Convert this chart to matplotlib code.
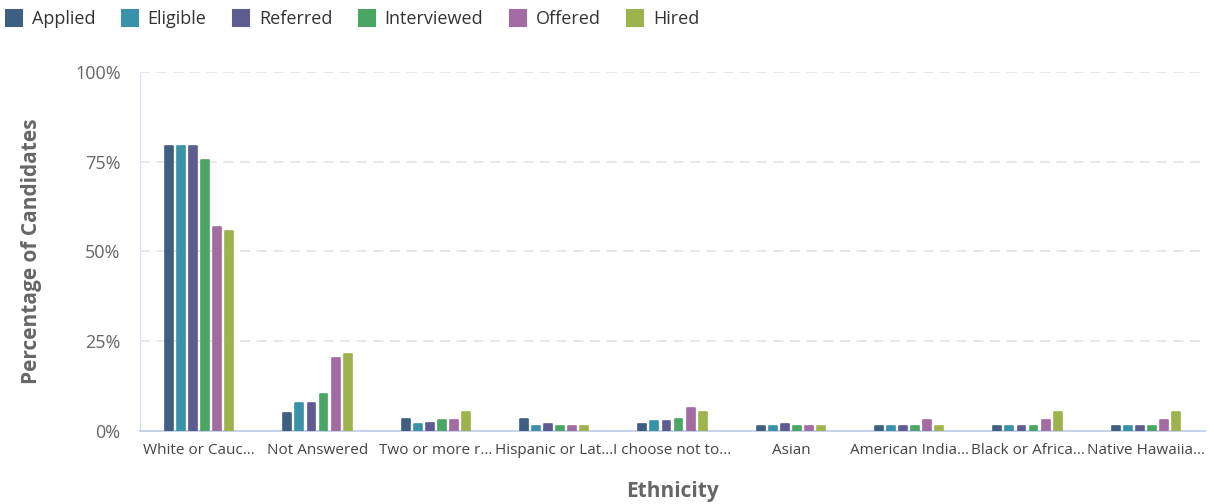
import matplotlib
matplotlib.use("Agg")
import matplotlib.pyplot as plt
import numpy as np
from matplotlib.lines import Line2D

categories = ["White or Cauc...", "Not Answered", "Two or more r...", "Hispanic or Lat...",
              "I choose not to...", "Asian", "American India...", "Black or Africa...", "Native Hawaiia..."]
series = ["Applied", "Eligible", "Referred", "Interviewed", "Offered", "Hired"]
applied     = [79.4, 5.0, 3.3, 3.3, 1.9, 1.4, 1.4, 1.4, 1.4]
eligible    = [79.4, 7.8, 1.9, 1.4, 2.7, 1.4, 1.4, 1.4, 1.4]
referred    = [79.4, 7.8, 2.2, 1.9, 2.7, 1.9, 1.4, 1.4, 1.4]
interviewed = [75.5, 10.3, 3.1, 1.4, 3.3, 1.4, 1.4, 1.4, 1.4]
offered     = [56.8, 20.3, 3.1, 1.4, 6.5, 1.4, 3.1, 3.1, 3.1]
hired       = [55.7, 21.4, 5.3, 1.4, 5.3, 1.4, 1.4, 5.3, 5.3]
values = [applied, eligible, referred, interviewed, offered, hired]
colors = ["#3e5f82", "#3a92a8", "#5e5b91", "#4aa664", "#a26ba1", "#9db44e"]
yticks = [0, 25, 50, 75, 100]
ytick_labels = ["0%", "25%", "50%", "75%", "100%"]

plt.rcParams['font.family'] = ['Open Sans', 'DejaVu Sans']

fig = plt.figure(figsize=(12.14, 5.04), dpi=100)
ax = fig.add_axes([140/1214, 1-431/504, (1205-140)/1214, (431-72)/504])

x = np.arange(len(categories))
step = 0.102
bw = 0.066
for i, (s, v, c) in enumerate(zip(series, values, colors)):
    offs = (i - 2.5) * step
    bars = ax.bar(x + offs, v, width=bw, color=c, edgecolor=c, linewidth=1.2, label=s, zorder=3)
    for b in bars:
        b.set_joinstyle('round')

ax.set_xlim(-0.5, len(categories) - 0.5)
ax.set_ylim(0, 100)
ax.set_yticks(yticks)
ax.set_yticklabels(ytick_labels, fontsize=13, color="#666666")
ax.set_xticks(x)
ax.set_xticklabels(categories, fontsize=11, color="#444444")
ax.tick_params(axis='both', length=0)
ax.tick_params(axis='y', pad=14)
ax.tick_params(axis='x', pad=9)
ax.grid(axis='y', color="#e3e3e3", linestyle=(0, (6, 4)), linewidth=1.2, zorder=0)
for sp in ["top", "right"]:
    ax.spines[sp].set_visible(False)
ax.spines["left"].set_color("#d5deef")
ax.spines["bottom"].set_color("#c8d3ea")
ax.spines["bottom"].set_linewidth(1.5)

ax.set_ylabel("Percentage of Candidates", fontsize=15, fontweight="bold", color="#666666", labelpad=24)
ax.set_xlabel("Ethnicity", fontsize=15, fontweight="bold", color="#666666", labelpad=16)

handles = [Line2D([0], [0], marker='s', linestyle='none', markersize=12, markerfacecolor=c,
                  markeredgecolor=c, markeredgewidth=1.5) for c in colors]
fig.legend(handles, series, loc='upper left', bbox_to_anchor=(-0.0095, 1.012), ncol=6, frameon=False,
           fontsize=13, handlelength=1.0, handletextpad=0.5, columnspacing=1.4, labelcolor="#333333")

fig.savefig("out.png", dpi=100, facecolor="white")
